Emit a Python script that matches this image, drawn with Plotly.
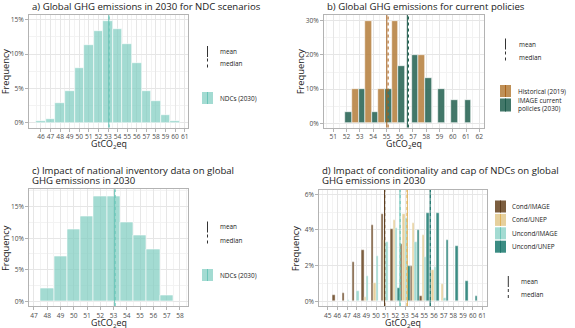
import plotly.graph_objects as go

W, H = 575, 328

# a) Global GHG emissions in 2030 for NDC scenarios (% of runs per 1 Gt bin)
bins_a = [46, 47, 48, 49, 50, 51, 52, 53, 54, 55, 56, 57, 58, 59, 60]
freq_a = [0.3, 0.5, 2.8, 4.6, 7.9, 11.3, 13.4, 14.8, 13.7, 11.4, 8.7, 4.6, 3.1, 1.1, 0.3]
stats_a = {"mean": 53.08, "median": 53.12}

# b) Global GHG emissions for current policies
bins_b = [51.9, 52.9, 53.9, 54.9, 55.9, 56.9, 57.9, 58.9, 59.9, 60.9]
hist_b = [0, 10, 30, 10, 30, 0, 20, 0, 0, 0]
image_b = [3.3, 10, 3.3, 10, 16.7, 20, 13.3, 10, 6.7, 6.7]
stats_hist_b = {"mean": 55.03, "median": 55.13}
stats_image_b = {"mean": 56.58, "median": 56.66}

# c) Impact of national inventory data
bins_c = [48, 49, 50, 51, 52, 53, 54, 55, 56, 57]
freq_c = [2.1, 7.2, 11.4, 13.5, 16.7, 16.7, 12.5, 10.4, 8.3, 1.0]
stats_c = {"mean": 53.08, "median": 53.12}

# d) Conditionality and cap of NDCs
bins_d = [46, 47, 48, 49, 50, 51, 52, 53, 54, 55, 56, 57, 58, 59, 60]
cond_image = [0.36, 0.45, 2.23, 2.89, 4.3, 4.9, 4.05, 3.2, 2.0, 0.28, 0, 0, 0, 0, 0]
cond_unep = [0, 0, 0, 0.26, 1.01, 3.45, 4.54, 4.9, 4.4, 3.7, 1.76, 0.98, 0, 0, 0]
uncond_image = [0, 0.05, 0.58, 1.43, 2.55, 3.3, 4.1, 4.67, 3.3, 2.48, 1.95, 0.17, 0, 0, 0]
uncond_unep = [0, 0, 0, 0, 0, 0, 0.73, 2.0, 4.0, 4.95, 4.95, 3.45, 3.1, 1.14, 0.29]
stats_d = {
    "Cond/IMAGE": {"mean": 50.88, "median": 50.9},
    "Cond/UNEP": {"mean": 53.24, "median": 53.2},
    "Uncond/IMAGE": {"mean": 52.47, "median": 52.5},
    "Uncond/UNEP": {"mean": 55.6, "median": 55.62},
}

FONT = "Open Sans"
TXT = "#1a1a1a"
TICK = "#4d4d4d"
TEAL_FILL, TEAL_LINE = "rgba(128,205,193,0.72)", "#6cc5b8"
HIST_FILL, HIST_LINE = "rgba(180,124,58,0.85)", "#a9621c"
IMG_FILL, IMG_LINE = "rgba(40,100,84,0.88)", "#1f5c4c"
D_COLORS = {
    "Cond/IMAGE": ("rgba(110,76,42,0.9)", "#5b3b1c"),
    "Cond/UNEP": ("rgba(226,200,140,0.85)", "#e0b25a"),
    "Uncond/IMAGE": ("rgba(128,205,193,0.72)", "#6cc5b8"),
    "Uncond/UNEP": ("rgba(38,128,118,0.9)", "#20766d"),
}
d_series = {"Cond/IMAGE": cond_image, "Cond/UNEP": cond_unep,
            "Uncond/IMAGE": uncond_image, "Uncond/UNEP": uncond_unep}


def px(x):
    return x / W


def py(y):
    return 1 - y / H


fig = go.Figure()

# panel boxes in pixels: left, right, top, bottom
panels = {
    "": (29, 188, 15, 127.5),
    "2": (324, 484, 15, 127.5),
    "3": (29.3, 188.3, 189.3, 306),
    "4": (319.3, 486.7, 190, 306),
}

bar_line = dict(color="white", width=0.6)

fig.add_trace(go.Bar(x=bins_a, y=freq_a, marker=dict(color=TEAL_FILL, line=bar_line),
                     name="NDCs (2030)", xaxis="x", yaxis="y", showlegend=False))
fig.add_trace(go.Bar(x=bins_b, y=hist_b, marker=dict(color=HIST_FILL, line=bar_line),
                     name="Historical (2019)", xaxis="x2", yaxis="y2", showlegend=False))
fig.add_trace(go.Bar(x=bins_b, y=image_b, marker=dict(color=IMG_FILL, line=bar_line),
                     name="IMAGE current policies (2030)", xaxis="x2", yaxis="y2", showlegend=False))
fig.add_trace(go.Bar(x=bins_c, y=freq_c, marker=dict(color=TEAL_FILL, line=bar_line),
                     name="NDCs (2030)", xaxis="x3", yaxis="y3", showlegend=False))
for name, vals in d_series.items():
    fig.add_trace(go.Bar(x=bins_d, y=vals, marker=dict(color=D_COLORS[name][0], line=dict(color="white", width=0.4)),
                         name=name, xaxis="x4", yaxis="y4", showlegend=False))


def stat_lines(ax, stats, color):
    for key, dash in (("mean", "solid"), ("median", "dot")):
        fig.add_shape(type="line", xref="x" + ax, yref="y" + ax + " domain",
                      x0=stats[key], x1=stats[key], y0=0, y1=1,
                      line=dict(color=color, width=1, dash=dash))


stat_lines("", stats_a, TEAL_LINE)
stat_lines("2", stats_hist_b, HIST_LINE)
stat_lines("2", stats_image_b, IMG_LINE)
stat_lines("3", stats_c, TEAL_LINE)
for name, st in stats_d.items():
    stat_lines("4", st, D_COLORS[name][1])

# axes
x_ranges = {"": [44.75, 61.35], "2": [50.3, 62.35], "3": [46.65, 58.63], "4": [44.13, 61.45]}
x_ticks = {"": list(range(46, 62)), "2": list(range(51, 63)), "3": list(range(47, 59)), "4": list(range(45, 62))}
y_ranges = {"": [-0.72, 15.7], "2": [-1.23, 31.7], "3": [-0.75, 17.75], "4": [-0.26, 6.24]}
y_ticks = {"": [0, 5, 10, 15], "2": [0, 10, 20, 30], "3": [0, 5, 10, 15], "4": [0, 2, 4, 6]}

axis_common = dict(showline=True, mirror=True, linecolor="#b3b3b3", linewidth=1,
                   ticks="outside", ticklen=3, tickcolor="#b3b3b3", tickwidth=0.8,
                   gridcolor="#e6e6e6", gridwidth=0.7, zeroline=False, tickangle=0,
                   tickfont=dict(family=FONT, size=6.6, color=TICK))

for ax, (l, r, t, b) in panels.items():
    xt = x_ticks[ax]
    yt = y_ticks[ax]
    fig.layout["xaxis" + ax] = dict(
        axis_common, domain=[px(l), px(r)], range=x_ranges[ax], anchor="y" + ax,
        tickvals=xt, ticktext=[str(v) for v in xt],
        minor=dict(tickvals=[v + 0.5 for v in [xt[0] - 1] + xt], showgrid=True, gridcolor="#f3f3f3",
                   gridwidth=0.5, ticks=""),
    )
    step = yt[1] - yt[0]
    fig.layout["yaxis" + ax] = dict(
        axis_common, domain=[py(b), py(t)], range=y_ranges[ax], anchor="x" + ax,
        tickvals=yt, ticktext=[f"{v}%" for v in yt],
        minor=dict(tickvals=[v + step / 2 for v in yt], showgrid=True, gridcolor="#f3f3f3",
                   gridwidth=0.5, ticks=""),
    )
    # axis titles
    fig.add_annotation(x=px((l + r) / 2), y=py(b + 17), xref="paper", yref="paper",
                       text="GtCO<sub>2</sub>eq", showarrow=False, xanchor="center", yanchor="middle",
                       font=dict(family=FONT, size=8.8, color=TXT))
    fig.add_annotation(x=px(l - 24), y=py((t + b) / 2), xref="paper", yref="paper",
                       text="Frequency", showarrow=False, textangle=-90, xanchor="center", yanchor="middle",
                       font=dict(family=FONT, size=9.3, color=TXT))

# titles
titles = [
    (30, 6.5, "a) Global GHG emissions in 2030 for NDC scenarios"),
    (324.5, 6.5, "b) Global GHG emissions for current policies"),
    (30, 170, "c) Impact of national inventory data on global"),
    (30, 180.5, "GHG emissions in 2030"),
    (320, 170, "d) Impact of conditionality and cap of NDCs on global"),
    (320, 180.5, "GHG emissions in 2030"),
]
for x, y, text in titles:
    fig.add_annotation(x=px(x), y=py(y), xref="paper", yref="paper", text=text, showarrow=False,
                       xanchor="left", yanchor="middle", font=dict(family=FONT, size=9.6, color=TXT))


def legend_text(x, y, text, size=6.4):
    fig.add_annotation(x=px(x), y=py(y), xref="paper", yref="paper", text=text, showarrow=False,
                       xanchor="left", yanchor="middle", align="left",
                       font=dict(family=FONT, size=size, color=TXT))


def mean_median_key(x, y_mean, y_median, text_x):
    fig.add_shape(type="line", xref="paper", yref="paper", x0=px(x), x1=px(x),
                  y0=py(y_mean - 5.5), y1=py(y_mean + 5.5), line=dict(color="#333333", width=1))
    fig.add_shape(type="line", xref="paper", yref="paper", x0=px(x), x1=px(x),
                  y0=py(y_median - 5.5), y1=py(y_median + 5.5), line=dict(color="#333333", width=1, dash="dot"))
    legend_text(text_x, y_mean, "mean")
    legend_text(text_x, y_median, "median")


def fill_key(x0, yc, fill, line, h=12):
    fig.add_shape(type="rect", xref="paper", yref="paper", x0=px(x0), x1=px(x0 + 11),
                  y0=py(yc + h / 2), y1=py(yc - h / 2), fillcolor=fill, line=dict(width=0))
    fig.add_shape(type="line", xref="paper", yref="paper", x0=px(x0 + 5.5), x1=px(x0 + 5.5),
                  y0=py(yc + h / 2), y1=py(yc - h / 2), line=dict(color=line, width=1))


# legend a
mean_median_key(207.5, 51.5, 64, 218)
fill_key(202, 98, TEAL_FILL, TEAL_LINE)
legend_text(218, 98, "NDCs (2030)")

# legend b
mean_median_key(505.5, 44, 57, 516.5)
fill_key(500, 91, HIST_FILL, HIST_LINE)
legend_text(516, 91.5, "Historical (2019)")
fill_key(500, 105, IMG_FILL, IMG_LINE, h=13)
legend_text(516, 105, "IMAGE current<br>policies (2030)")

# legend c
mean_median_key(207.5, 227, 240, 218)
fill_key(202, 275, TEAL_FILL, TEAL_LINE)
legend_text(218, 275, "NDCs (2030)")

# legend d
for i, name in enumerate(d_series):
    yc = 206.5 + i * 13.4
    fill_key(495, yc, D_COLORS[name][0], D_COLORS[name][1])
    legend_text(509.5, yc, name)
mean_median_key(508.3, 281.5, 294.5, 519)

fig.update_layout(
    width=W, height=H, margin=dict(l=0, r=0, t=0, b=0),
    paper_bgcolor="white", plot_bgcolor="white",
    barmode="group", bargap=0, bargroupgap=0,
    font=dict(family=FONT, color=TXT),
    showlegend=False,
)

# the page body has a default 8px margin; drop it so the figure sits at the window origin
fig.write_html("out.html", config={"displayModeBar": False},
               post_script="document.body.style.margin='0';")
